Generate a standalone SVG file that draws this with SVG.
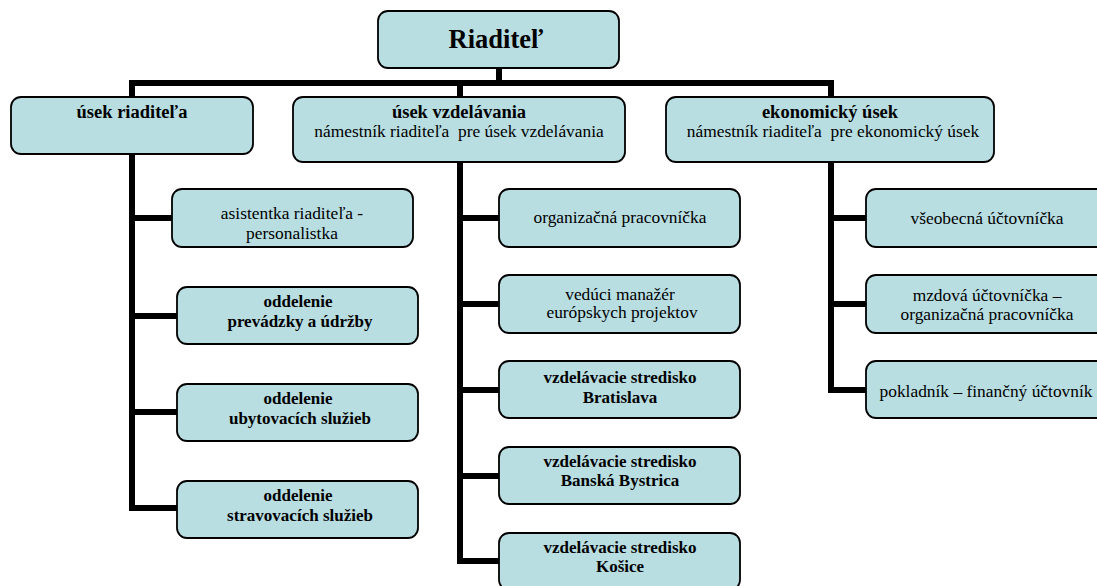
<svg xmlns="http://www.w3.org/2000/svg" width="1097" height="586" viewBox="0 0 1097 586">
<style>
.box{fill:#B8DEE2;stroke:#000;stroke-width:1.8}
.t{font-family:"Liberation Serif","Times New Roman",serif;font-size:17.4px;fill:#000;text-anchor:middle;white-space:pre}
.b{font-weight:bold;font-size:17px}
.h{font-size:18.5px}
.top{font-size:26.5px;font-weight:bold}
.con{fill:none;stroke:#000;stroke-width:6;stroke-linejoin:miter;stroke-linecap:butt}
</style>
<rect width="1097" height="586" fill="#fff"/>
<g id="connectors" class="con">
<path d="M499,68V83"/>
<path d="M132,97V83H831V97"/>
<path d="M460,83V97"/>
<path d="M132,154V508H177"/>
<path d="M129,218H172M129,316H177M129,412H177"/>
<path d="M460,162V561H499"/>
<path d="M457,218H499M457,304H499M457,390H499M457,476H499"/>
<path d="M831,162V390H866"/>
<path d="M828,218H866M828,304H866"/>
</g>
<g id="riaditel">
<rect class="box" x="378" y="11" width="241" height="57" rx="10"/>
<text class="t top" x="496" y="48">Riaditeľ</text>
</g>
<g id="usek-riaditela">
<rect class="box" x="11" y="97" width="242" height="57" rx="10"/>
<text class="t b h" x="132" y="118">úsek riaditeľa</text>
</g>
<g id="usek-vzdelavania">
<rect class="box" x="293" y="97" width="332" height="65" rx="10"/>
<text class="t b h" x="459" y="118">úsek vzdelávania</text>
<text class="t" x="459" y="137">námestník riaditeľa  pre úsek vzdelávania</text>
</g>
<g id="ekonomicky-usek">
<rect class="box" x="666" y="97" width="328" height="65" rx="10"/>
<text class="t b h" x="830" y="118">ekonomický úsek</text>
<text class="t" x="833" y="137">námestník riaditeľa  pre ekonomický úsek</text>
</g>
<g id="asistentka">
<rect class="box" x="172" y="189" width="241" height="58" rx="10"/>
<text class="t" x="292" y="219">asistentka riaditeľa -</text>
<text class="t" x="292" y="239">personalistka</text>
</g>
<g id="prevadzka">
<rect class="box" x="177" y="287" width="241" height="57" rx="10"/>
<text class="t b" x="298" y="307">oddelenie</text>
<text class="t b" x="300" y="327">prevádzky a údržby</text>
</g>
<g id="ubytovanie">
<rect class="box" x="177" y="384" width="241" height="57" rx="10"/>
<text class="t b" x="298" y="404">oddelenie</text>
<text class="t b" x="300" y="424">ubytovacích služieb</text>
</g>
<g id="stravovanie">
<rect class="box" x="177" y="481" width="241" height="57" rx="10"/>
<text class="t b" x="298" y="501">oddelenie</text>
<text class="t b" x="300" y="521">stravovacích služieb</text>
</g>
<g id="organizacna">
<rect class="box" x="499" y="189" width="241" height="58" rx="10"/>
<text class="t" x="620" y="223">organizačná pracovníčka</text>
</g>
<g id="veduci">
<rect class="box" x="499" y="275" width="241" height="58" rx="10"/>
<text class="t" x="620" y="300">vedúci manažér</text>
<text class="t" x="622" y="318">európskych projektov</text>
</g>
<g id="bratislava">
<rect class="box" x="499" y="361" width="241" height="57" rx="10"/>
<text class="t b" x="620" y="383">vzdelávacie stredisko</text>
<text class="t b" x="620" y="403">Bratislava</text>
</g>
<g id="banska-bystrica">
<rect class="box" x="499" y="447" width="241" height="57" rx="10"/>
<text class="t b" x="620" y="467">vzdelávacie stredisko</text>
<text class="t b" x="620" y="486">Banská Bystrica</text>
</g>
<g id="kosice">
<rect class="box" x="499" y="533" width="241" height="57" rx="10"/>
<text class="t b" x="620" y="553">vzdelávacie stredisko</text>
<text class="t b" x="620" y="572">Košice</text>
</g>
<g id="vseobecna">
<rect class="box" x="866" y="189" width="242" height="58" rx="10"/>
<text class="t" x="987" y="224">všeobecná účtovníčka</text>
</g>
<g id="mzdova">
<rect class="box" x="866" y="275" width="242" height="58" rx="10"/>
<text class="t" x="987" y="301">mzdová účtovníčka –</text>
<text class="t" x="987" y="320">organizačná pracovníčka</text>
</g>
<g id="pokladnik">
<rect class="box" x="866" y="361" width="242" height="57" rx="10"/>
<text class="t" x="986" y="397">pokladník – finančný účtovník</text>
</g>
</svg>
